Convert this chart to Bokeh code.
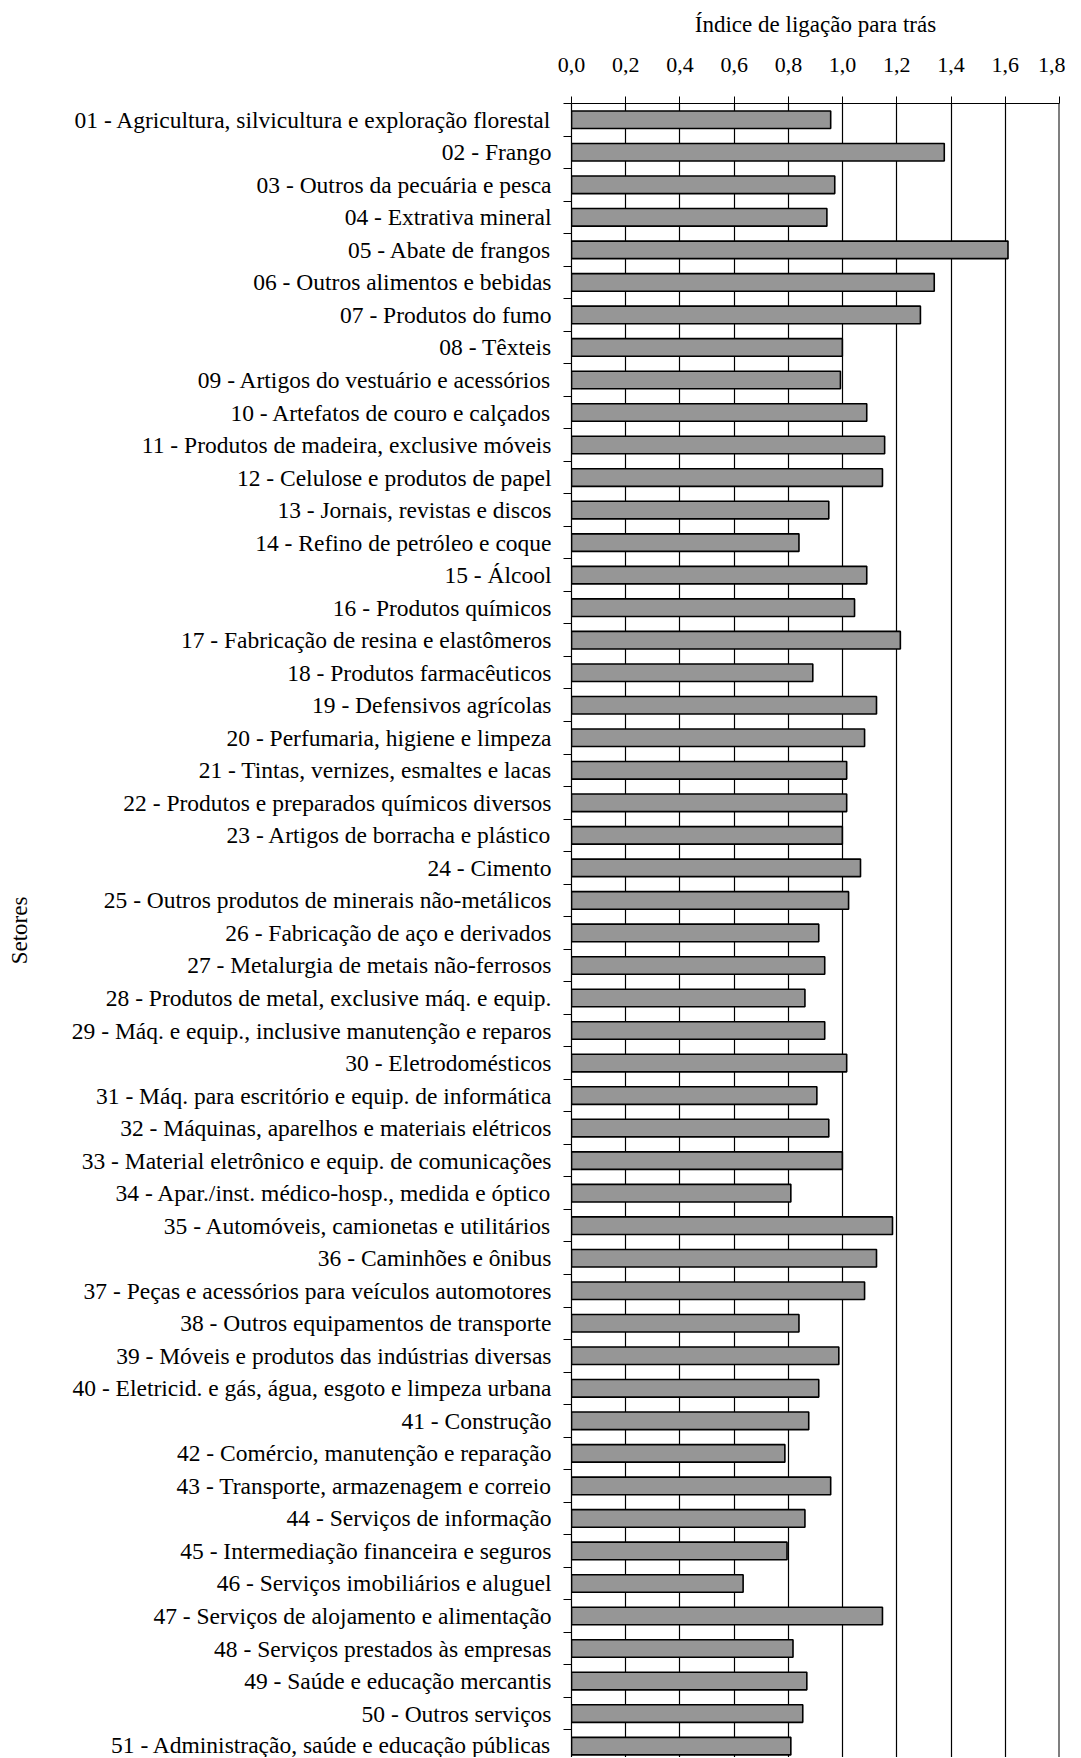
from bokeh.plotting import figure
from bokeh.models import Range1d, FixedTicker, CustomJSTickFormatter, LinearAxis, Span, Grid
from bokeh.embed import file_html
from bokeh.resources import INLINE

sectors = [
    "01 - Agricultura, silvicultura e exploração florestal",
    "02 - Frango",
    "03 - Outros da pecuária e pesca",
    "04 - Extrativa mineral",
    "05 - Abate de frangos",
    "06 - Outros alimentos e bebidas",
    "07 - Produtos do fumo",
    "08 - Têxteis",
    "09 - Artigos do vestuário e acessórios",
    "10 - Artefatos de couro e calçados",
    "11 - Produtos de madeira, exclusive móveis",
    "12 - Celulose e produtos de papel",
    "13 - Jornais, revistas e discos",
    "14 - Refino de petróleo e coque",
    "15 - Álcool",
    "16 - Produtos químicos",
    "17 - Fabricação de resina e elastômeros",
    "18 - Produtos farmacêuticos",
    "19 - Defensivos agrícolas",
    "20 - Perfumaria, higiene e limpeza",
    "21 - Tintas, vernizes, esmaltes e lacas",
    "22 - Produtos e preparados químicos diversos",
    "23 - Artigos de borracha e plástico",
    "24 - Cimento",
    "25 - Outros produtos de minerais não-metálicos",
    "26 - Fabricação de aço e derivados",
    "27 - Metalurgia de metais não-ferrosos",
    "28 - Produtos de metal, exclusive máq. e equip.",
    "29 - Máq. e equip., inclusive manutenção e reparos",
    "30 - Eletrodomésticos",
    "31 - Máq. para escritório e equip. de informática",
    "32 - Máquinas, aparelhos e materiais elétricos",
    "33 - Material eletrônico e equip. de comunicações",
    "34 - Apar./inst. médico-hosp., medida e óptico",
    "35 - Automóveis, camionetas e utilitários",
    "36 - Caminhões e ônibus",
    "37 - Peças e acessórios para veículos automotores",
    "38 - Outros equipamentos de transporte",
    "39 - Móveis e produtos das indústrias diversas",
    "40 - Eletricid. e gás, água, esgoto e limpeza urbana",
    "41 - Construção",
    "42 - Comércio, manutenção e reparação",
    "43 - Transporte, armazenagem e correio",
    "44 - Serviços de informação",
    "45 - Intermediação financeira e seguros",
    "46 - Serviços imobiliários e aluguel",
    "47 - Serviços de alojamento e alimentação",
    "48 - Serviços prestados às empresas",
    "49 - Saúde e educação mercantis",
    "50 - Outros serviços",
    "51 - Administração, saúde e educação públicas",
]

backward_index = [
    0.956, 1.375, 0.971, 0.942, 1.610, 1.338, 1.287, 0.999, 0.992, 1.089,
    1.155, 1.147, 0.949, 0.839, 1.089, 1.044, 1.213, 0.890, 1.125, 1.081,
    1.015, 1.015, 0.999, 1.066, 1.022, 0.912, 0.934, 0.861, 0.934, 1.015,
    0.905, 0.949, 0.999, 0.809, 1.184, 1.125, 1.081, 0.839, 0.986, 0.912,
    0.875, 0.787, 0.956, 0.861, 0.795, 0.633, 1.147, 0.817, 0.868, 0.853,
    0.809,
]

x_ticks = [0.0, 0.2, 0.4, 0.6, 0.8, 1.0, 1.2, 1.4, 1.6, 1.8]

FONT = "Liberation Serif"

n = len(sectors)
pos = list(range(n))

p = figure(width=1065, height=1757, output_backend="svg", toolbar_location=None,
           x_range=Range1d(0, 1.8), y_range=Range1d(50.35, -0.5),
           x_axis_location=None, y_axis_location=None,
           min_border_left=571, min_border_right=6, min_border_top=103, min_border_bottom=0)
p.outline_line_color = None
p.background_fill_color = "white"
p.border_fill_color = "white"

# top axis
xa = LinearAxis(ticker=FixedTicker(ticks=x_ticks),
                formatter=CustomJSTickFormatter(code="return tick.toFixed(1).replace('.', ',');"))
xa.axis_label = "Índice de ligação para trás"
xa.axis_label_text_font = FONT
xa.axis_label_text_font_size = "23px"
xa.axis_label_text_font_style = "normal"
xa.axis_label_text_color = "black"
xa.axis_label_standoff = 18
xa.major_label_text_font = FONT
xa.major_label_text_font_size = "22px"
xa.major_label_text_color = "black"
xa.major_label_standoff = 25
xa.major_tick_out = 7
xa.major_tick_in = 0
xa.minor_tick_out = 0
xa.minor_tick_in = 0
xa.axis_line_color = "black"
xa.axis_line_width = 1.2
xa.major_tick_line_color = "black"
p.add_layout(xa, "above")

# left axis
ya = LinearAxis(ticker=FixedTicker(ticks=pos, minor_ticks=[i - 0.5 for i in range(n + 1)]))
ya.major_label_overrides = {i: s for i, s in enumerate(sectors)}
ya.axis_label = "Setores"
ya.axis_label_text_font = FONT
ya.axis_label_text_font_size = "23px"
ya.axis_label_text_font_style = "normal"
ya.axis_label_text_color = "black"
ya.axis_label_standoff = 37
ya.major_label_text_font = FONT
ya.major_label_text_font_size = "23.5px"
ya.major_label_text_color = "black"
ya.major_label_standoff = 12
ya.major_tick_line_color = None
ya.major_tick_out = 0
ya.major_tick_in = 0
ya.minor_tick_out = 8
ya.minor_tick_in = 0
ya.minor_tick_line_color = "black"
ya.axis_line_color = "black"
ya.axis_line_width = 1.2
p.add_layout(ya, "left")

p.xgrid.visible = False
p.ygrid.visible = False
g = Grid(dimension=0, ticker=FixedTicker(ticks=x_ticks), grid_line_color="black", grid_line_width=1.2)
p.add_layout(g)

p.add_layout(Span(location=1.8, dimension="height", line_color="black", line_width=2))

p.hbar(y=pos, left=0, right=backward_index, height=0.54,
       fill_color="#969696", line_color="black", line_width=1.6)

open("out.html", "w").write(file_html(p, INLINE))
